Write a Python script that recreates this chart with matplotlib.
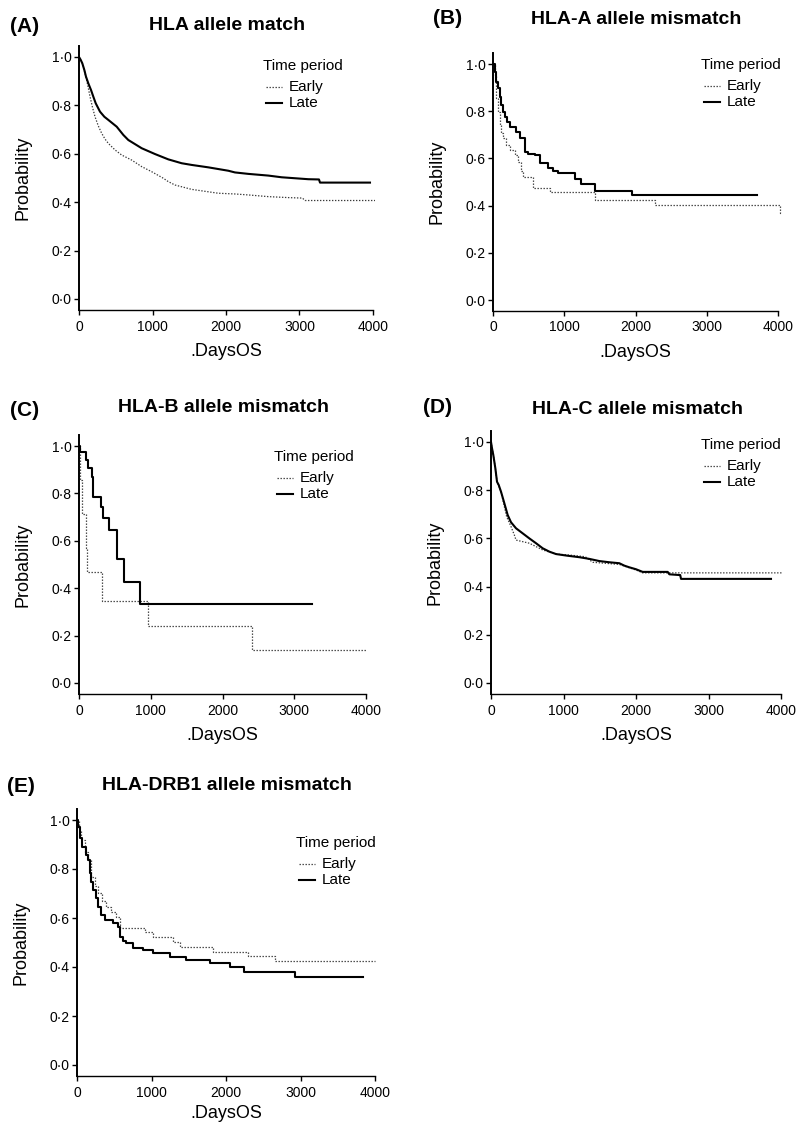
import matplotlib
matplotlib.use("Agg")
import matplotlib.pyplot as plt
from matplotlib.lines import Line2D
from matplotlib.ticker import FuncFormatter

plt.rcParams["font.family"] = ["Liberation Sans", "DejaVu Sans"]

W, H = 799, 1124

# ---------------- Kaplan-Meier survival estimates (days, probability) ----------------
# (A) HLA allele match
a_early_days = [0, 45, 59, 82, 104, 127, 150, 181, 218, 263, 308, 354, 399, 490, 580, 717, 853,
                989, 1147, 1215, 1306, 1533, 1760, 1896, 2122, 2304, 2576, 2848, 3040, 3075, 4027]
a_early_surv = [1.0, 0.975, 0.960, 0.933, 0.905, 0.871, 0.836, 0.795, 0.753, 0.715, 0.685, 0.661,
                0.643, 0.616, 0.595, 0.574, 0.547, 0.526, 0.499, 0.485, 0.471, 0.453, 0.443, 0.437,
                0.434, 0.430, 0.423, 0.419, 0.417, 0.407, 0.407]
a_late_days = [0, 20, 45, 73, 95, 127, 163, 195, 227, 286, 345, 399, 513, 603, 671, 853, 1034,
               1215, 1397, 1533, 1760, 1896, 2032, 2122, 2304, 2576, 2757, 3120, 3265, 3279, 3959]
a_late_surv = [1.0, 0.99, 0.974, 0.946, 0.919, 0.891, 0.864, 0.836, 0.809, 0.774, 0.753, 0.740,
               0.712, 0.678, 0.657, 0.623, 0.599, 0.577, 0.561, 0.554, 0.544, 0.537, 0.530, 0.523,
               0.517, 0.510, 0.503, 0.495, 0.494, 0.481, 0.481]

# (B) HLA-A allele mismatch
b_early_days = [0, 23, 47, 70, 94, 117, 140, 187, 234, 304, 351, 397, 421, 491, 561, 795, 1426,
                2267, 4025, 4040]
b_early_surv = [1.0, 0.953, 0.855, 0.798, 0.742, 0.706, 0.685, 0.657, 0.636, 0.614, 0.586, 0.548,
                0.523, 0.520, 0.473, 0.459, 0.423, 0.402, 0.367, 0.367]
b_late_days = [0, 23, 47, 70, 94, 117, 140, 164, 201, 234, 327, 374, 444, 491, 585, 655, 771, 841,
               912, 1146, 1239, 1426, 1945, 3707]
b_late_surv = [1.0, 0.967, 0.925, 0.897, 0.862, 0.826, 0.798, 0.777, 0.756, 0.734, 0.713, 0.685,
               0.628, 0.619, 0.614, 0.579, 0.558, 0.547, 0.537, 0.513, 0.491, 0.463, 0.447, 0.447]

# (C) HLA-B allele mismatch
c_early_days = [0, 14, 46, 100, 108, 316, 966, 2407, 4010]
c_early_surv = [1.0, 0.857, 0.712, 0.571, 0.467, 0.347, 0.241, 0.138, 0.138]
c_late_days = [0, 14, 93, 130, 176, 200, 306, 339, 422, 525, 632, 850, 3243]
c_late_surv = [1.0, 0.973, 0.941, 0.906, 0.870, 0.786, 0.742, 0.695, 0.646, 0.522, 0.427, 0.333,
               0.333]

# (D) HLA-C allele mismatch
d_early_days = [0, 14, 32, 60, 83, 138, 184, 216, 276, 322, 345, 529, 621, 713, 897, 1080, 1300,
                1403, 1770, 2000, 2092, 4023]
d_early_surv = [1.0, 0.974, 0.946, 0.891, 0.835, 0.794, 0.732, 0.690, 0.649, 0.614, 0.593, 0.580,
                0.566, 0.552, 0.535, 0.531, 0.524, 0.501, 0.492, 0.469, 0.457, 0.457]
d_late_days = [0, 14, 32, 60, 83, 106, 138, 184, 230, 276, 345, 437, 529, 621, 713, 805, 897,
               1058, 1218, 1356, 1494, 1632, 1770, 1839, 1908, 2000, 2092, 2437, 2460, 2598, 2610,
               2621, 3862]
d_late_surv = [1.0, 0.974, 0.946, 0.891, 0.835, 0.822, 0.794, 0.746, 0.697, 0.667, 0.642, 0.621,
               0.600, 0.580, 0.559, 0.545, 0.535, 0.528, 0.522, 0.515, 0.506, 0.501, 0.497, 0.487,
               0.480, 0.472, 0.461, 0.461, 0.451, 0.448, 0.448, 0.432, 0.432]

# (E) HLA-DRB1 allele mismatch
e_early_days = [0, 27, 58, 103, 148, 192, 237, 282, 340, 394, 461, 528, 573, 908, 1020, 1289, 1378,
                1826, 2295, 2654, 3996]
e_early_surv = [1.0, 0.959, 0.918, 0.871, 0.837, 0.769, 0.731, 0.701, 0.671, 0.646, 0.626, 0.605,
                0.560, 0.544, 0.521, 0.503, 0.483, 0.463, 0.445, 0.426, 0.426]
e_late_days = [0, 13, 36, 72, 125, 148, 170, 192, 215, 251, 282, 327, 371, 483, 550, 573, 617, 662,
               752, 886, 1020, 1244, 1467, 1781, 2050, 2237, 2922, 3839]
e_late_surv = [1.0, 0.973, 0.925, 0.891, 0.857, 0.837, 0.782, 0.748, 0.714, 0.680, 0.646, 0.612,
               0.592, 0.578, 0.565, 0.524, 0.508, 0.497, 0.476, 0.469, 0.456, 0.442, 0.429, 0.415,
               0.401, 0.381, 0.358, 0.358]

panel_letters = ["(A)", "(B)", "(C)", "(D)", "(E)"]
panel_titles = ["HLA allele match", "HLA-A allele mismatch", "HLA-B allele mismatch",
                "HLA-C allele mismatch", "HLA-DRB1 allele mismatch"]
group_labels = ["Early", "Late"]
legend_title = "Time period"
x_ticks = [0, 1000, 2000, 3000, 4000]
y_ticks = [0.0, 0.2, 0.4, 0.6, 0.8, 1.0]
x_label = ".DaysOS"
y_label = "Probability"

series = [
    ((a_early_days, a_early_surv), (a_late_days, a_late_surv)),
    ((b_early_days, b_early_surv), (b_late_days, b_late_surv)),
    ((c_early_days, c_early_surv), (c_late_days, c_late_surv)),
    ((d_early_days, d_early_surv), (d_late_days, d_late_surv)),
    ((e_early_days, e_early_surv), (e_late_days, e_late_surv)),
]

# ---------------- layout (pixels) ----------------
# x of day 0, pixels per 1000 days, y of p=1, y of p=0
frames = [(79, 73.5, 57, 299), (493, 71.3, 64, 300), (79, 71.75, 446, 683),
          (491, 72.5, 442, 683), (77, 74.5, 820, 1065)]
title_pos = [(227, 26), (636, 19), (223, 408), (637, 410), (227, 785)]
letter_pos = [(10, 27), (433, 19), (10, 410), (423, 408), (7, 786)]
key_pos = [(263, 66), (701, 65), (274, 457), (701, 445), (296, 843)]
xlabel_gap = [42, 42, 42, 42, 37]
# panels with many events are drawn as a continuous trace, sparse ones as steps
draw_modes = ["default", "steps-post", "steps-post", "default", "steps-post"]

XMAX = 4100
YMIN, YMAX = -0.045, 1.045

early_style = dict(color="#3a3a3a", lw=0.9, linestyle=(0, (1.1, 1.3)))
late_style = dict(color="black", lw=1.5, linestyle="-")

fig = plt.figure(figsize=(W / 100, H / 100), dpi=100)
fig.patch.set_facecolor("white")

tick_fmt = FuncFormatter(lambda v, _: f"{v:.1f}".replace(".", "\u00b7"))

for i in range(5):
    x0, ppk, y1, y0 = frames[i]
    ys = y0 - y1
    left = x0
    width = XMAX / 1000 * ppk
    top = y1 - (YMAX - 1.0) * ys
    bottom = y0 - YMIN * ys
    ax = fig.add_axes([left / W, 1 - bottom / H, width / W, (bottom - top) / H])
    ax.set_facecolor("none")

    (ed, es), (ld, ls) = series[i]
    ax.plot(ed, es, drawstyle=draw_modes[i], **early_style)
    ax.plot(ld, ls, drawstyle=draw_modes[i], **late_style)

    ax.set_xlim(0, XMAX)
    ax.set_ylim(YMIN, YMAX)
    ax.set_xticks(x_ticks)
    ax.set_xticklabels([str(t) for t in x_ticks])
    ax.set_yticks(y_ticks)
    ax.yaxis.set_major_formatter(tick_fmt)
    ax.tick_params(axis="x", length=3.6, width=1.0, pad=3.5, labelsize=10)
    ax.tick_params(axis="y", length=3.6, width=1.0, pad=1.8, labelsize=10)

    for s in ("top", "right"):
        ax.spines[s].set_visible(False)
    ax.spines["left"].set_linewidth(1.4)
    ax.spines["bottom"].set_linewidth(1.0)
    ax.spines["bottom"].set_bounds(0, 4000)

    ax.set_xlabel(x_label, fontsize=13, va="center")
    ax.xaxis.set_label_coords(2000 / XMAX, -xlabel_gap[i] / (bottom - top))
    ax.set_ylabel(y_label, fontsize=13, va="center")
    ax.yaxis.set_label_coords(-56 / width, 0.5)

    tx, ty = title_pos[i]
    fig.text(tx / W, 1 - ty / H, panel_titles[i], fontsize=14, fontweight="bold",
             ha="center", va="center")
    lx, ly = letter_pos[i]
    fig.text(lx / W, 1 - ly / H, panel_letters[i], fontsize=15, fontweight="bold",
             ha="left", va="center")

    kx, ky = key_pos[i]
    fig.text(kx / W, 1 - ky / H, legend_title, fontsize=11, ha="left", va="center")
    for dy, style, lab in ((21, early_style, group_labels[0]), (37, late_style, group_labels[1])):
        yy = 1 - (ky + dy) / H
        fig.add_artist(Line2D([(kx + 3) / W, (kx + 19) / W], [yy, yy], **style))
        fig.text((kx + 26) / W, yy, lab, fontsize=11, ha="left", va="center")

fig.savefig("out.png", dpi=100, facecolor="white")
